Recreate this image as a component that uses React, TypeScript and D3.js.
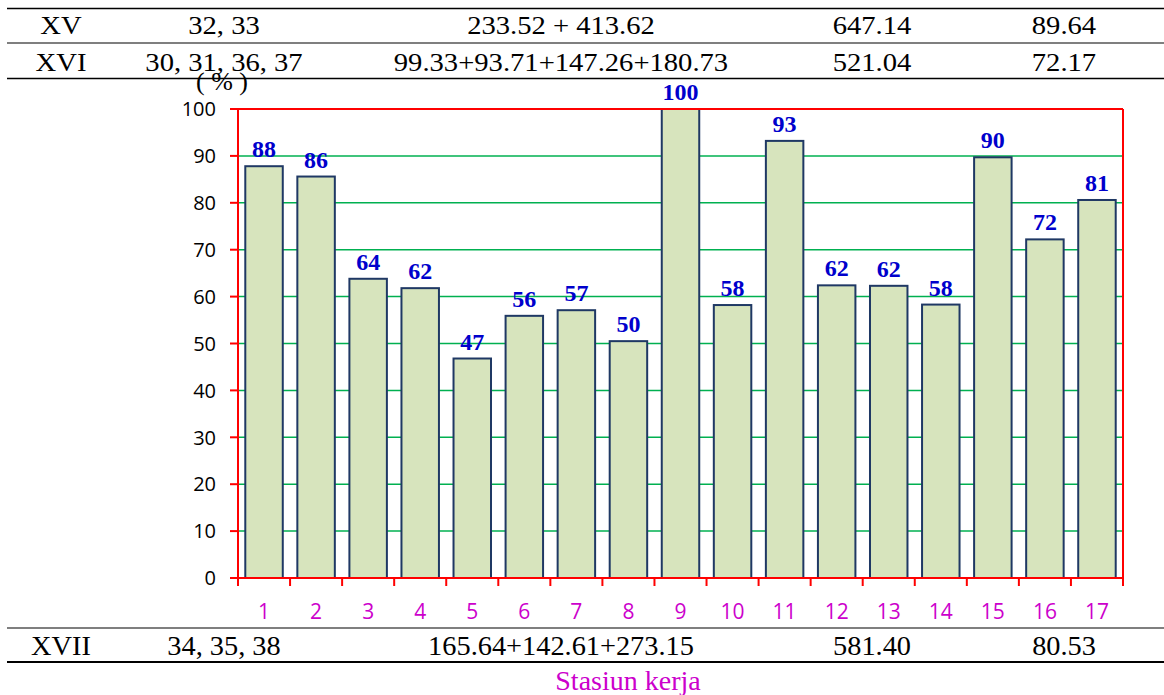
import * as d3 from 'd3';
import React from 'react';

// chart values
const stations = ['1','2','3','4','5','6','7','8','9','10','11','12','13','14','15','16','17'];
const utilisation = [87.8, 85.6, 63.8, 61.8, 46.8, 55.9, 57.1, 50.5, 100, 58.2, 93.2, 62.4, 62.3, 58.3, 89.7, 72.2, 80.6];
const valueLabels = ['88','86','64','62','47','56','57','50','100','58','93','62','62','58','90','72','81'];
const yTicks = [0, 10, 20, 30, 40, 50, 60, 70, 80, 90, 100];

// table rows around the chart
const topRows = [
    ['XV', '32, 33', '233.52 + 413.62', '647.14', '89.64'],
    ['XVI', '30, 31, 36, 37', '99.33+93.71+147.26+180.73', '521.04', '72.17'],
];
const bottomRow = ['XVII', '34, 35, 38', '165.64+142.61+273.15', '581.40', '80.53'];
const columnCenters = [61, 224, 561, 872, 1064];

const W = 1164;
const H = 695;
const serif = { fontFamily: 'Liberation Serif, Times New Roman, serif' };
const sans = { fontFamily: 'Open Sans, Lato, sans-serif' };

function App() {
    const margin = { top: 109, right: 41, bottom: 117, left: 238 };

    const x = d3.scaleBand()
        .domain(stations)
        .range([margin.left, W - margin.right]);

    const y = d3.scaleLinear()
        .domain([0, 100])
        .range([H - margin.bottom, margin.top]);

    const step = x.step();
    const barW = step * 0.72;
    const bounds = stations.map(s => x(s)).concat([W - margin.right]);

    const y0 = y(0);
    const yTop = y(100);
    const xL = margin.left;
    const xR = W - margin.right;

    return (
        <div style={{ position: 'absolute', left: 0, top: 0 }}>
            <svg width={W} height={H} style={{ display: 'block', background: '#fff' }}>
                {/* table lines */}
                <line x1={7} x2={W} y1={8.5} y2={8.5} stroke="#000" strokeWidth={1.5} />
                <line x1={7} x2={W} y1={43} y2={43} stroke="#000" strokeWidth={1.2} />
                <line x1={7} x2={W} y1={78.5} y2={78.5} stroke="#000" strokeWidth={1.5} />
                <line x1={7} x2={W} y1={628} y2={628} stroke="#000" strokeWidth={1.2} />
                <line x1={7} x2={W} y1={662} y2={662} stroke="#000" strokeWidth={2} />

                {topRows.map((row, ri) => (
                    row.map((cell, ci) => (
                        <text key={`t${ri}-${ci}`}
                            transform={`translate(${columnCenters[ci]},${34 + ri * 36.5}) scale(1.1,1)`}
                            textAnchor="middle" style={{ ...serif, fontSize: 26 }} fill="#000">
                            {cell}
                        </text>
                    ))
                ))}
                {bottomRow.map((cell, ci) => (
                    <text key={`b${ci}`}
                        transform={`translate(${columnCenters[ci]},655) scale(1.05,1)`}
                        textAnchor="middle" style={{ ...serif, fontSize: 27 }} fill="#000">
                        {cell}
                    </text>
                ))}

                {/* gridlines */}
                {yTicks.filter(t => t > 0 && t < 100).map(t => (
                    <line key={`g${t}`} x1={xL} x2={xR} y1={y(t)} y2={y(t)}
                        stroke="#00b050" strokeWidth={1.5} />
                ))}

                {/* bars */}
                {stations.map((s, i) => (
                    <rect key={`bar${s}`}
                        x={x(s) + (step - barW) / 2}
                        y={y(utilisation[i])}
                        width={barW}
                        height={y0 - y(utilisation[i])}
                        fill="#d7e4bd" stroke="#1f3864" strokeWidth={2} />
                ))}

                {/* frame and axes */}
                <line x1={xL} x2={xR} y1={yTop} y2={yTop} stroke="#ff0000" strokeWidth={2} />
                <line x1={xR} x2={xR} y1={yTop} y2={y0} stroke="#ff0000" strokeWidth={2} />
                <line x1={xL} x2={xL} y1={yTop} y2={y0 + 8} stroke="#ff0000" strokeWidth={2} />
                <line x1={xL - 8} x2={xR} y1={y0} y2={y0} stroke="#ff0000" strokeWidth={2} />
                {yTicks.map(t => (
                    <g key={`yt${t}`}>
                        <line x1={xL - 8} x2={xL} y1={y(t)} y2={y(t)} stroke="#ff0000" strokeWidth={2} />
                        <text x={xL - 22} y={y(t)} dy="0.36em" textAnchor="end"
                            style={{ ...sans, fontSize: 20 }} fill="#000">{t}</text>
                    </g>
                ))}
                {bounds.map((b, i) => (
                    <line key={`xt${i}`} x1={b} x2={b} y1={y0} y2={y0 + 8} stroke="#ff0000" strokeWidth={2} />
                ))}
                {stations.map(s => (
                    <text key={`xl${s}`} x={x(s) + step / 2} y={619} textAnchor="middle"
                        style={{ ...sans, fontSize: 21 }} fill="#cc00cc">{s}</text>
                ))}

                {/* value labels */}
                {stations.map((s, i) => (
                    <text key={`vl${s}`} x={x(s) + step / 2} y={y(utilisation[i]) - 9}
                        textAnchor="middle" style={{ ...serif, fontSize: 24, fontWeight: 'bold' }}
                        fill="#0000cc">{valueLabels[i]}</text>
                ))}

                {/* axis titles */}
                <text x={222} y={90} textAnchor="middle" style={{ ...serif, fontSize: 26 }} fill="#000">( % )</text>
                <text x={628} y={690} textAnchor="middle" style={{ ...serif, fontSize: 28 }} fill="#cc00cc">Stasiun kerja</text>
            </svg>
        </div>
    );
}

export default App;
